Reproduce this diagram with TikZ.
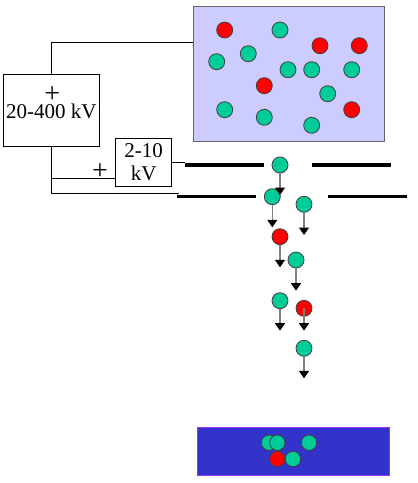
\documentclass[tikz,border=0pt]{standalone}
\usepackage{fontspec}
\setmainfont{Liberation Serif}
\usetikzlibrary{arrows.meta, positioning}
\definecolor{msGreen}{HTML}{00CC99}
\definecolor{msRed}{HTML}{FF0000}
\definecolor{msLilac}{HTML}{CCCCFF}
\definecolor{msBlue}{HTML}{3333CC}
\definecolor{msViolet}{HTML}{9933FF}
\definecolor{msGrey}{HTML}{808080}
\tikzset{
  % thin wiring, heavy plates, ions as small discs
  wire/.style     = {black, line width=0.8pt},
  plate/.style    = {black, line width=3.4pt},
  supply/.style   = {draw, black, line width=0.8pt, fill=white, inner sep=0pt},
  lbl/.style      = {font=\fontsize{21}{23.3}\selectfont, inner sep=0pt},
  sign/.style     = {font=\fontsize{28}{30}\selectfont, inner sep=0pt},
  ion/.style      = {circle, draw=black!75, line width=0.8pt, fill=#1,
                     minimum size=16, inner sep=0pt},
  fall/.style     = {msGrey, line width=1.4pt,
                     -{Triangle[black, length=7.5pt, width=10pt]}},
  chamber/.style  = {draw=black!60, line width=1pt, fill=msLilac,
                     minimum width=191, minimum height=135},
  target/.style   = {draw=msViolet, line width=1pt, fill=msBlue,
                     minimum width=192, minimum height=47.7},
}

\begin{document}
\begin{tikzpicture}[x=1pt, y=-1pt]
  \useasboundingbox (0,0) rectangle (418,483);
  % source chamber
  \node[chamber] (chamber) at (288.5,73.5) {};
  \foreach \x/\y/\c [count=\i] in {224.7/30/msRed, 280/30/msGreen,
      320/45.7/msRed, 359.3/45.7/msRed, 248.3/53.7/msGreen,
      216.7/61.7/msGreen, 288/69.7/msGreen, 311.7/69.7/msGreen,
      351.7/69.7/msGreen, 264.3/85.7/msRed, 327.7/93.7/msGreen,
      224.7/109.7/msGreen, 264.3/117.3/msGreen, 351.7/109.7/msRed,
      311.7/125.3/msGreen}
    \node[ion=\c] (s\i) at (\x,\y) {};
  % supplies
  \node[supply, minimum width=96, minimum height=72.4] (hv) at (51.3,110.5) {};
  \node[sign] (hvplus) at (52.3,95) {+};
  \node[lbl] (hvval) at (51.3,111) {20-400 kV};
  \node[supply, lbl, align=center, minimum width=56, minimum height=47.7]
    (lv) at (143.7,162.2) {2-10\\kV};
  \node[sign] (lvplus) at (100,171.6) {+};
  % extraction plates
  \coordinate (pA) at (185,165);
  \coordinate (pB) at (264,165);
  \coordinate (pC) at (312.3,165);
  \coordinate (pD) at (390.7,165);
  \coordinate (pE) at (176.7,196.7);
  \coordinate (pF) at (256,196.7);
  \coordinate (pG) at (328.3,196.7);
  \coordinate (pH) at (406.7,196.7);
  \draw[plate] (pA) -- (pB);
  \draw[plate] (pC) -- (pD);
  \draw[plate] (pE) -- (pF);
  \draw[plate] (pG) -- (pH);
  % wiring
  \coordinate (feed) at (193,42.3);
  \coordinate (tap) at (51.3,178.3);
  \coordinate (ground) at (179,193.3);
  \draw[wire] (hv.north) |- (feed);
  \draw[wire] (tap) -- (tap -| lv.west);
  \draw[wire] (hv.south) |- (ground);
  \draw[wire] (lv.east) -- (lv.east -| pA);
  % falling ions
  \foreach \x/\y/\c [count=\i] in {280/165/msGreen, 272.3/196.7/msGreen,
      304/204.3/msGreen, 280/236.7/msRed, 296/260/msGreen,
      280/300.7/msGreen, 304/308.3/msRed, 304/348.3/msGreen}
    \node[ion=\c] (f\i) at (\x,\y) {};
  \foreach \i/\a/\d in {1/south/30, 2/south/30.6, 3/south/30.7, 4/south/30.6,
      5/south/30.7, 6/south/30, 7/center/22.4, 8/south/30} {
    \path (f\i.center) ++(0,\d) coordinate (t\i);
    \draw[fall] (f\i.\a) -- (t\i);
  }
  % target
  \node[target] (target) at (293.3,451.2) {};
  \foreach \x/\y/\c [count=\i] in {269/442.7/msGreen, 277.3/442.7/msGreen,
      309/442.7/msGreen, 277.3/459/msRed, 293/459/msGreen}
    \node[ion=\c, minimum size=15.4] (d\i) at (\x,\y) {};
\end{tikzpicture}
\end{document}
